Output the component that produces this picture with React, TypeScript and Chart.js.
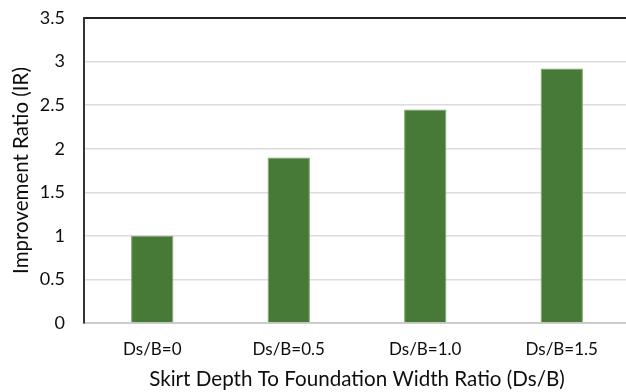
import React, { useEffect, useRef } from "react";
import { Chart, registerables } from "chart.js";

Chart.register(...registerables);

const categories = ["Ds/B=0", "Ds/B=0.5", "Ds/B=1.0", "Ds/B=1.5"];
const irValues = [1.0, 1.9, 2.45, 2.92];
const yMin = 0;
const yMax = 3.5;
const yStep = 0.5;

export default function App() {
  const ref = useRef<HTMLCanvasElement>(null);
  useEffect(() => {
    if (!ref.current) return;
    const font = "Lato, 'Noto Sans', sans-serif";
    const chart = new Chart(ref.current, {
      type: "bar",
      data: {
        labels: categories,
        datasets: [
          {
            data: irValues,
            backgroundColor: "#477a37",
            borderColor: "#7aa26a",
            borderWidth: 1,
            barPercentage: 0.31,
            categoryPercentage: 1,
          },
        ],
      },
      options: {
        animation: false,
        responsive: false,
        maintainAspectRatio: false,
        layout: { padding: { top: 0, right: 12, left: 9, bottom: 0 } },
        plugins: { legend: { display: false }, tooltip: { enabled: false } },
        scales: {
          x: {
            grid: { display: false, drawTicks: false },
            border: { color: "#cccccc", width: 2 },
            ticks: { color: "#0d0d0d", font: { family: font, size: 17 }, padding: 16 },
            title: {
              display: true,
              text: "Skirt Depth To Foundation Width Ratio (Ds/B)",
              color: "#0d0d0d",
              font: { family: font, size: 20.6 },
              padding: { top: 0, bottom: 0 },
            },
            afterFit: (s: any) => {
              s.height = 69;
            },
          },
          y: {
            min: yMin,
            max: yMax,
            ticks: {
              stepSize: yStep,
              color: "#0d0d0d",
              font: { family: font, size: 18 },
              padding: 19,
              callback: (v: any) => String(Number(v)),
            },
            grid: {
              drawTicks: false,
              color: (ctx: any) => (ctx.tick && ctx.tick.value === yMax ? "#222" : "#dcdcdc"),
              lineWidth: (ctx: any) => (ctx.tick && ctx.tick.value === yMax ? 2 : 1.5),
            },
            border: { color: "#333", width: 2 },
            title: {
              display: true,
              text: "Improvement Ratio (IR)",
              color: "#0d0d0d",
              font: { family: font, size: 20.5 },
              padding: { top: 0, bottom: 0 },
            },
            afterFit: (s: any) => {
              s.width = 75;
              s.paddingTop = 18;
              s.paddingBottom = 0;
            },
          },
        },
      },
    });
    return () => chart.destroy();
  }, []);
  return (
    <div style={{ position: "fixed", left: 0, top: 0, width: 626, height: 392, overflow: "hidden", background: "#fff" }}>
      <canvas ref={ref} width={642} height={392} style={{ display: "block" }} />
    </div>
  );
}
